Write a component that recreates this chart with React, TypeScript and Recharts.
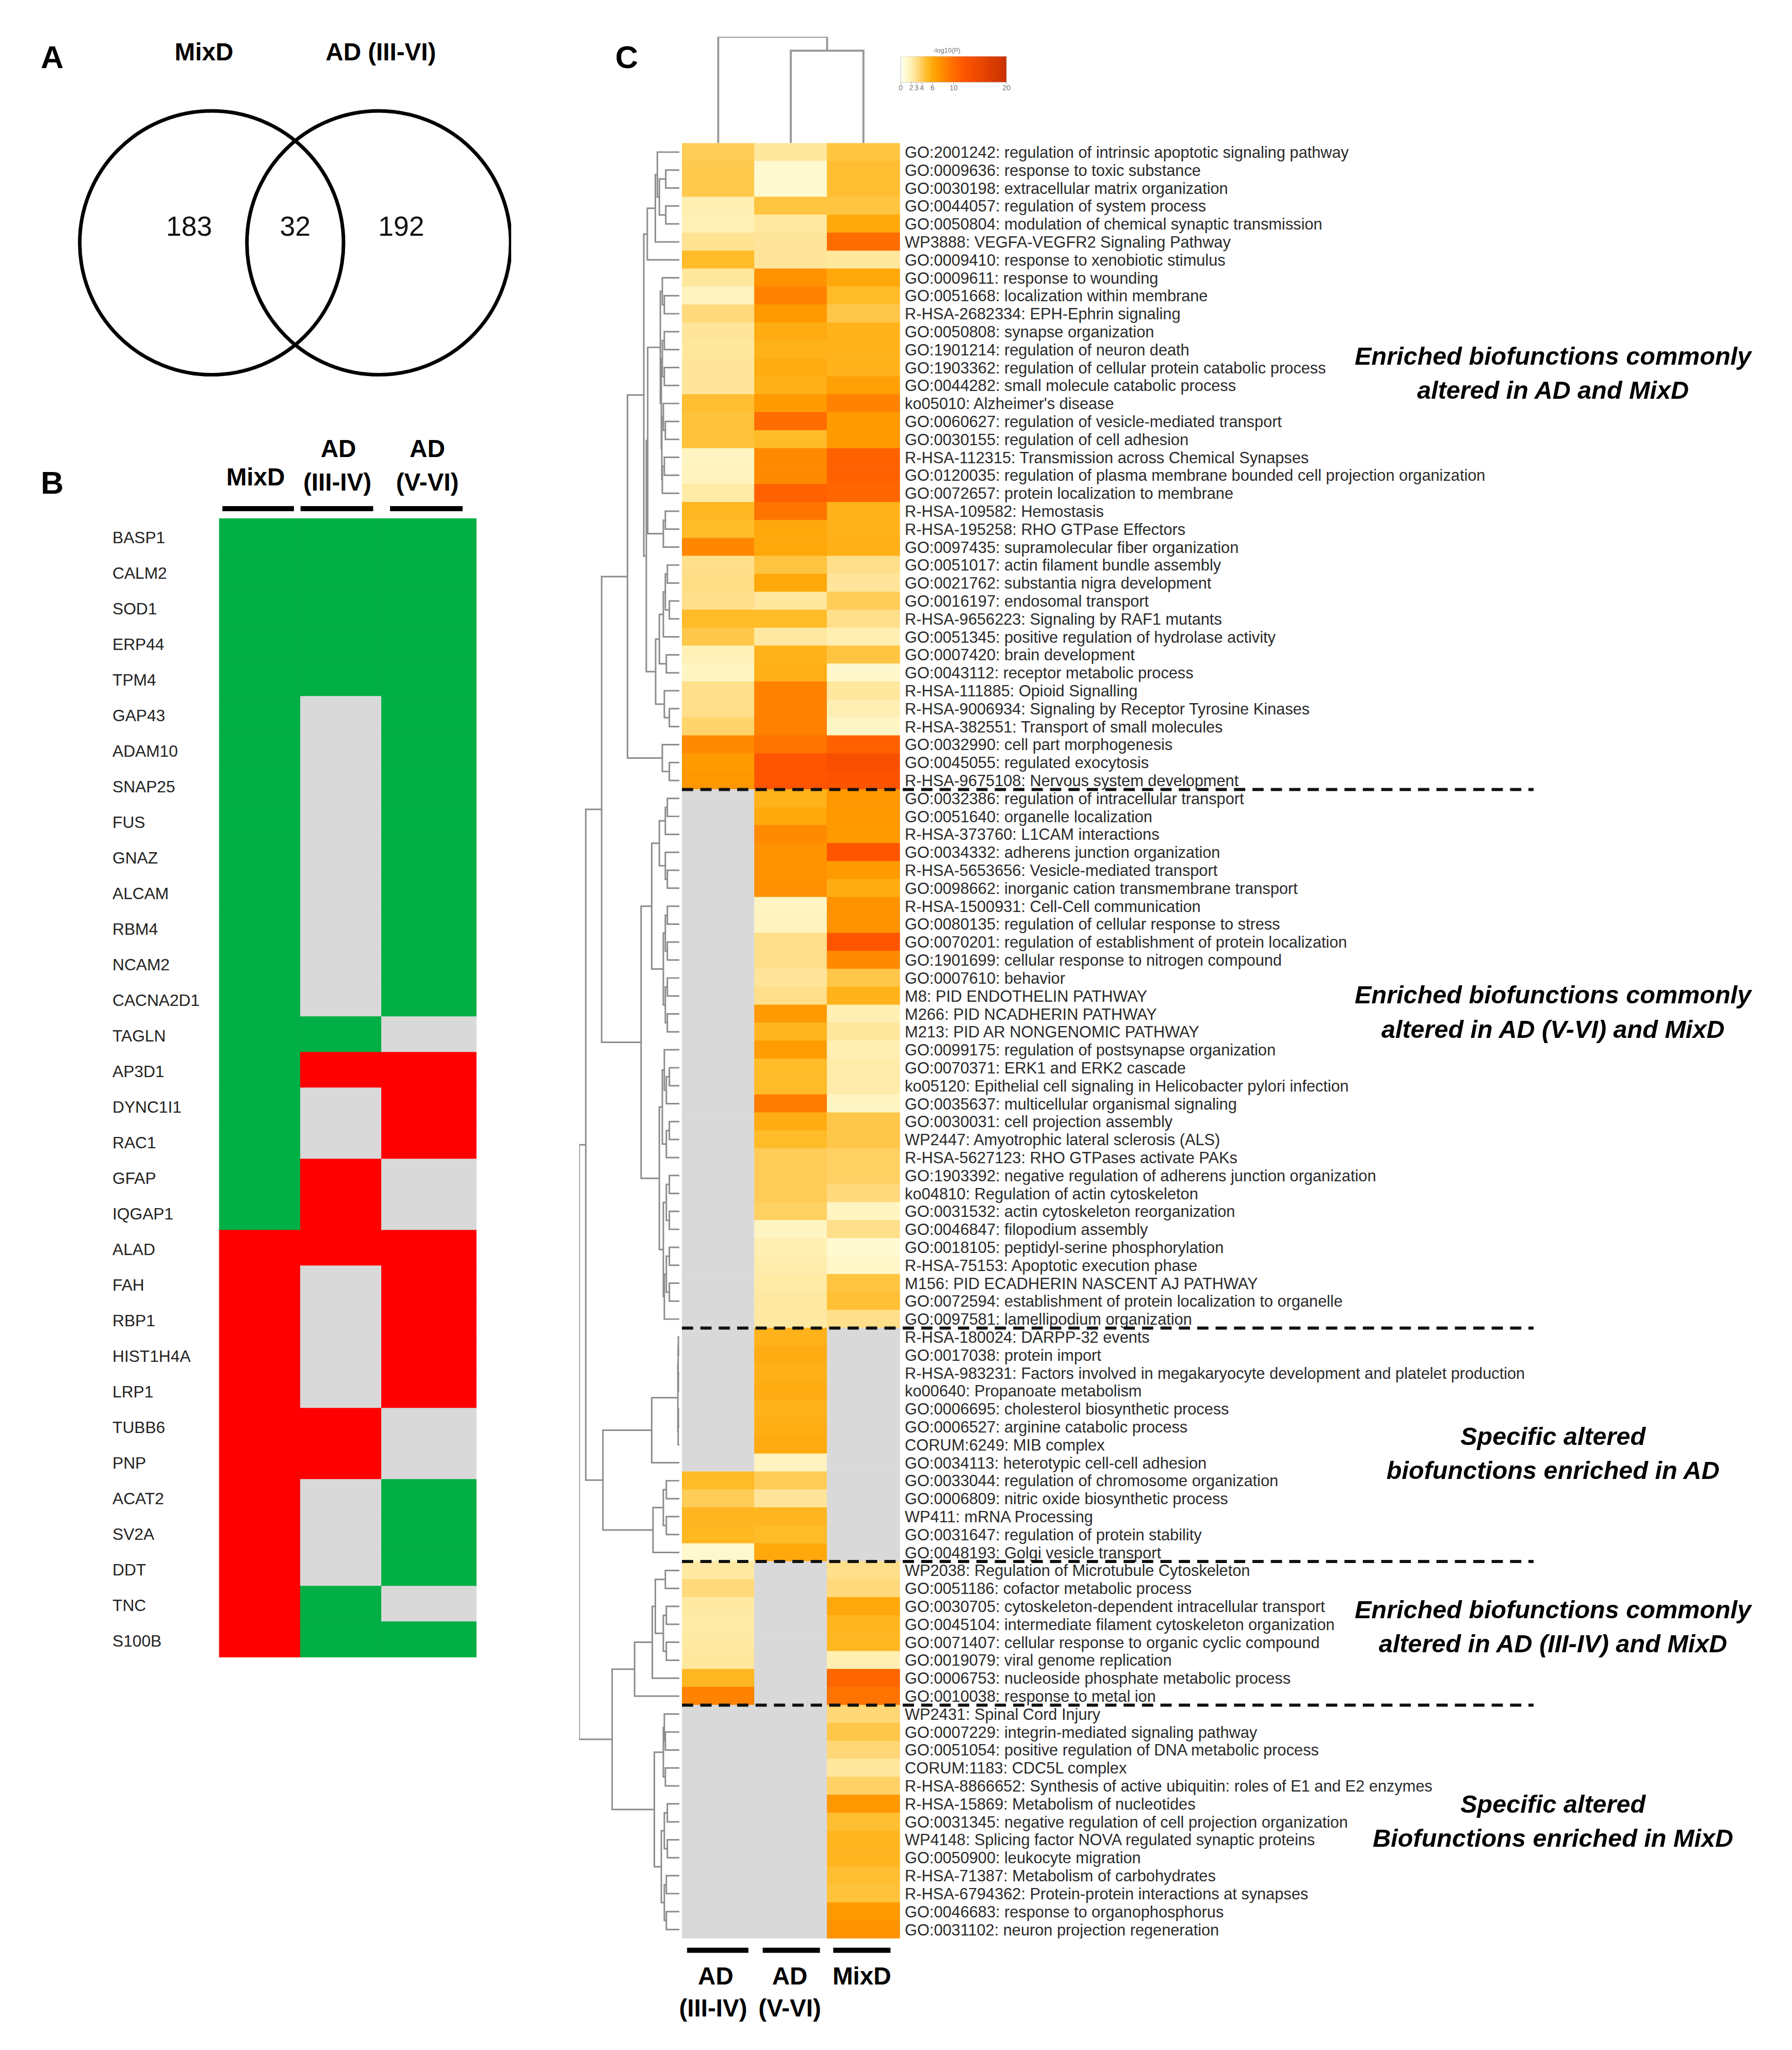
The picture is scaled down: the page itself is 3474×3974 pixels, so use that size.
import React from "react";
import { BarChart, Bar, Cell, XAxis, YAxis, ScatterChart, Scatter } from "recharts";

const FONT = "'Liberation Sans', Arial, Helvetica, sans-serif";
const ZERO = { top: 0, right: 0, bottom: 0, left: 0 };

// ---------- Panel A: Venn ----------
const vennSets = ["MixD", "AD (III-VI)"];
const vennCounts = [183, 32, 192]; // MixD only, shared, AD only

// ---------- Panel B: shared proteins ----------
const genes = [
  "BASP1", "CALM2", "SOD1", "ERP44", "TPM4", "GAP43", "ADAM10", "SNAP25",
  "FUS", "GNAZ", "ALCAM", "RBM4", "NCAM2", "CACNA2D1", "TAGLN", "AP3D1",
  "DYNC1I1", "RAC1", "GFAP", "IQGAP1", "ALAD", "FAH", "RBP1", "HIST1H4A",
  "LRP1", "TUBB6", "PNP", "ACAT2", "SV2A", "DDT", "TNC", "S100B",
];
// 1 = green, -1 = red, 0 = not altered (grey)
const geneMixD = [
  1, 1, 1, 1, 1, 1, 1, 1, 1, 1, 1, 1, 1, 1, 1, 1, 1, 1, 1, 1,
  -1, -1, -1, -1, -1, -1, -1, -1, -1, -1, -1, -1,
];
const geneAdEarly = [
  1, 1, 1, 1, 1, 0, 0, 0, 0, 0, 0, 0, 0, 0, 1, -1, 0, 0, -1, -1,
  -1, 0, 0, 0, 0, -1, -1, 0, 0, 0, 1, 1,
];
const geneAdLate = [
  1, 1, 1, 1, 1, 1, 1, 1, 1, 1, 1, 1, 1, 1, 0, -1, -1, -1, 0, 0,
  -1, -1, -1, -1, -1, 0, 0, 1, 1, 1, 0, 1,
];

// ---------- Panel C: enriched terms ----------
const terms = [
  "GO:2001242: regulation of intrinsic apoptotic signaling pathway",
  "GO:0009636: response to toxic substance",
  "GO:0030198: extracellular matrix organization",
  "GO:0044057: regulation of system process",
  "GO:0050804: modulation of chemical synaptic transmission",
  "WP3888: VEGFA-VEGFR2 Signaling Pathway",
  "GO:0009410: response to xenobiotic stimulus",
  "GO:0009611: response to wounding",
  "GO:0051668: localization within membrane",
  "R-HSA-2682334: EPH-Ephrin signaling",
  "GO:0050808: synapse organization",
  "GO:1901214: regulation of neuron death",
  "GO:1903362: regulation of cellular protein catabolic process",
  "GO:0044282: small molecule catabolic process",
  "ko05010: Alzheimer's disease",
  "GO:0060627: regulation of vesicle-mediated transport",
  "GO:0030155: regulation of cell adhesion",
  "R-HSA-112315: Transmission across Chemical Synapses",
  "GO:0120035: regulation of plasma membrane bounded cell projection organization",
  "GO:0072657: protein localization to membrane",
  "R-HSA-109582: Hemostasis",
  "R-HSA-195258: RHO GTPase Effectors",
  "GO:0097435: supramolecular fiber organization",
  "GO:0051017: actin filament bundle assembly",
  "GO:0021762: substantia nigra development",
  "GO:0016197: endosomal transport",
  "R-HSA-9656223: Signaling by RAF1 mutants",
  "GO:0051345: positive regulation of hydrolase activity",
  "GO:0007420: brain development",
  "GO:0043112: receptor metabolic process",
  "R-HSA-111885: Opioid Signalling",
  "R-HSA-9006934: Signaling by Receptor Tyrosine Kinases",
  "R-HSA-382551: Transport of small molecules",
  "GO:0032990: cell part morphogenesis",
  "GO:0045055: regulated exocytosis",
  "R-HSA-9675108: Nervous system development",
  "GO:0032386: regulation of intracellular transport",
  "GO:0051640: organelle localization",
  "R-HSA-373760: L1CAM interactions",
  "GO:0034332: adherens junction organization",
  "R-HSA-5653656: Vesicle-mediated transport",
  "GO:0098662: inorganic cation transmembrane transport",
  "R-HSA-1500931: Cell-Cell communication",
  "GO:0080135: regulation of cellular response to stress",
  "GO:0070201: regulation of establishment of protein localization",
  "GO:1901699: cellular response to nitrogen compound",
  "GO:0007610: behavior",
  "M8: PID ENDOTHELIN PATHWAY",
  "M266: PID NCADHERIN PATHWAY",
  "M213: PID AR NONGENOMIC PATHWAY",
  "GO:0099175: regulation of postsynapse organization",
  "GO:0070371: ERK1 and ERK2 cascade",
  "ko05120: Epithelial cell signaling in Helicobacter pylori infection",
  "GO:0035637: multicellular organismal signaling",
  "GO:0030031: cell projection assembly",
  "WP2447: Amyotrophic lateral sclerosis (ALS)",
  "R-HSA-5627123: RHO GTPases activate PAKs",
  "GO:1903392: negative regulation of adherens junction organization",
  "ko04810: Regulation of actin cytoskeleton",
  "GO:0031532: actin cytoskeleton reorganization",
  "GO:0046847: filopodium assembly",
  "GO:0018105: peptidyl-serine phosphorylation",
  "R-HSA-75153: Apoptotic execution phase",
  "M156: PID ECADHERIN NASCENT AJ PATHWAY",
  "GO:0072594: establishment of protein localization to organelle",
  "GO:0097581: lamellipodium organization",
  "R-HSA-180024: DARPP-32 events",
  "GO:0017038: protein import",
  "R-HSA-983231: Factors involved in megakaryocyte development and platelet production",
  "ko00640: Propanoate metabolism",
  "GO:0006695: cholesterol biosynthetic process",
  "GO:0006527: arginine catabolic process",
  "CORUM:6249: MIB complex",
  "GO:0034113: heterotypic cell-cell adhesion",
  "GO:0033044: regulation of chromosome organization",
  "GO:0006809: nitric oxide biosynthetic process",
  "WP411: mRNA Processing",
  "GO:0031647: regulation of protein stability",
  "GO:0048193: Golgi vesicle transport",
  "WP2038: Regulation of Microtubule Cytoskeleton",
  "GO:0051186: cofactor metabolic process",
  "GO:0030705: cytoskeleton-dependent intracellular transport",
  "GO:0045104: intermediate filament cytoskeleton organization",
  "GO:0071407: cellular response to organic cyclic compound",
  "GO:0019079: viral genome replication",
  "GO:0006753: nucleoside phosphate metabolic process",
  "GO:0010038: response to metal ion",
  "WP2431: Spinal Cord Injury",
  "GO:0007229: integrin-mediated signaling pathway",
  "GO:0051054: positive regulation of DNA metabolic process",
  "CORUM:1183: CDC5L complex",
  "R-HSA-8866652: Synthesis of active ubiquitin: roles of E1 and E2 enzymes",
  "R-HSA-15869: Metabolism of nucleotides",
  "GO:0031345: negative regulation of cell projection organization",
  "WP4148: Splicing factor NOVA regulated synaptic proteins",
  "GO:0050900: leukocyte migration",
  "R-HSA-71387: Metabolism of carbohydrates",
  "R-HSA-6794362: Protein-protein interactions at synapses",
  "GO:0046683: response to organophosphorus",
  "GO:0031102: neuron projection regeneration",
];

// -log10(P) per term, null = not enriched (grey)
const pAdEarly: (number | null)[] = [
  4.0, 4.2, 4.2, 2.0, 1.9, 2.8, 5.0, 2.5, 1.6, 3.3,
  2.6, 2.5, 2.6, 2.6, 4.8, 4.6, 4.6, 1.5, 1.6, 2.3,
  5.2, 5.0, 8.2, 3.0, 3.1, 3.0, 5.0, 4.3, 1.8, 1.5,
  3.0, 3.0, 3.6, 8.0, 7.0, 7.2, null, null, null, null,
  null, null, null, null, null, null, null, null, null, null,
  null, null, null, null, null, null, null, null, null, null,
  null, null, null, null, null, null, null, null, null, null,
  null, null, null, null, 5.0, 4.0, 5.3, 5.2, 1.2, 2.4,
  3.3, 2.4, 2.3, 2.4, 2.5, 5.2, 8.5, null, null, null,
  null, null, null, null, null, null, null, null, null, null,
];
const pAdLate: (number | null)[] = [
  2.5, 1.0, 1.1, 4.5, 2.4, 2.6, 2.6, 7.5, 8.5, 7.0,
  5.8, 5.5, 5.8, 5.6, 7.0, 10.0, 5.0, 8.0, 8.0, 11.0,
  9.5, 6.0, 6.0, 4.5, 6.0, 2.5, 5.0, 2.4, 5.5, 5.6,
  8.5, 8.5, 8.6, 9.5, 12.0, 12.0, 5.5, 6.0, 8.0, 7.5,
  7.5, 7.6, 1.5, 1.6, 3.0, 3.0, 2.6, 3.0, 7.0, 5.3,
  6.8, 5.0, 5.0, 9.0, 5.8, 5.0, 4.0, 4.0, 4.0, 3.8,
  1.5, 2.0, 2.1, 2.3, 2.4, 2.4, 5.5, 5.8, 5.6, 5.8,
  5.5, 5.7, 5.9, 1.6, 4.0, 2.6, 5.3, 5.0, 6.0, null,
  null, null, null, null, null, null, null, null, null, null,
  null, null, null, null, null, null, null, null, null, null,
];
const pMixD: (number | null)[] = [
  4.5, 4.8, 4.8, 4.5, 6.0, 10.0, 2.5, 6.0, 5.0, 4.3,
  5.5, 5.5, 5.5, 6.5, 8.5, 7.0, 7.0, 11.0, 11.0, 10.5,
  5.5, 5.5, 5.6, 3.0, 2.6, 4.0, 3.0, 2.0, 4.5, 1.2,
  2.5, 2.0, 1.4, 11.0, 13.0, 12.5, 7.2, 7.2, 7.0, 12.0,
  7.0, 5.8, 7.5, 7.5, 12.0, 8.0, 4.3, 5.5, 2.0, 2.5,
  2.0, 2.2, 2.2, 1.5, 4.3, 4.3, 3.8, 3.8, 3.3, 1.5,
  3.0, 1.0, 1.3, 4.5, 4.7, 3.0, null, null, null, null,
  null, null, null, null, null, null, null, null, null, 3.0,
  3.3, 6.0, 5.3, 5.2, 2.0, 10.5, 9.5, 3.4, 4.3, 3.4,
  2.5, 3.7, 7.2, 4.8, 5.3, 5.3, 4.8, 4.6, 7.0, 7.5,
];
const groupBreaks = [36, 66, 79, 87];
const legendTicks = [0, 2, 3, 4, 6, 10, 20];

const groupNotes = [
  ["Enriched biofunctions commonly", "altered in AD and MixD"],
  ["Enriched biofunctions commonly", "altered in AD (V-VI) and MixD"],
  ["Specific altered", "biofunctions enriched in AD"],
  ["Enriched biofunctions commonly", "altered in AD (III-IV) and MixD"],
  ["Specific altered", "Biofunctions enriched in MixD"],
];

// row clustering: [height, left, right], leaves are row numbers
type Node = number | [number, Node, Node];
const rowTree: Node = [1.0,
  [0.934,
    [0.776,
      [0.518,
        [0.355,
          [0.32, [0.24, [0.22, 1, [0.2, [0.136, 2, 3], [0.136, 4, 5]]], 6], 7],
          [0.33,
            [0.316,
              [0.19, [0.17, 8, [0.15, 9, 10]],
                [0.18, [0.17, [0.15, 11, 12], [0.15, 13, 14]],
                  [0.175, [0.16, 15, [0.14, 16, 17]], [0.17, [0.15, 18, 19], 20]]]],
              [0.16, [0.14, 21, 22], 23]],
            [0.237, [0.2, [0.16, [0.14, [0.12, 24, 25], [0.1, 26, 27]], 28], [0.13, 29, 30]],
              [0.15, 31, [0.1, 32, 33]]]]],
        [0.17, 34, [0.1, 35, 36]]],
      [0.382,
        [0.276,
          [0.2, [0.14, [0.12, 37, 38], 39], [0.14, 40, [0.12, 41, 42]]],
          [0.16, [0.14, [0.12, 43, 44], [0.12, 45, 46]], [0.14, [0.12, 47, 48], [0.12, 49, 50]]]],
        [0.2,
          [0.17, [0.15, 51, [0.13, [0.1, 52, 53], 54]], [0.13, [0.1, 55, 56], 57]],
          [0.16, [0.13, [0.1, 58, 59], [0.1, 60, 61]], [0.15, [0.13, [0.1, 62, 63], [0.1, 64, 65]], 66]]]]],
    [0.763,
      [0.276, [0.015, [0.012, [0.01, 67, 68], [0.01, 69, 70]], [0.012, [0.01, 71, 72], 73]], 74],
      [0.263, [0.16, [0.13, 75, 76], [0.13, 77, 78]], 79]]],
  [0.671,
    [0.447, [0.27, [0.24, [0.14, 80, 81], [0.16, [0.13, 82, 83], [0.13, 84, 85]]], 86], 87],
    [0.25,
      [0.16, [0.15, 88, [0.14, 89, 90]], [0.14, 91, 92]],
      [0.18, [0.15, [0.12, 93, 94], [0.12, 95, 96]], [0.15, [0.13, 97, 98], [0.13, 99, 100]]]]]];

// column clustering, leaves are column indexes
const colTree: Node = [1.0, 0, [0.87, 1, 2]];

// ---------- helpers ----------
const heatStops: [number, string][] = [
  [0, "#FFFFF2"], [1, "#FFFAD2"], [2, "#FFEFB2"], [3, "#FFDF8A"], [4, "#FFCC58"],
  [5, "#FFBB28"], [6, "#FFA80C"], [7, "#FF9A00"], [8, "#FF8A00"], [10, "#FF6C00"],
  [12, "#FF5500"], [20, "#C83000"],
];
function hexToRgb(h: string) {
  return [1, 3, 5].map((i) => parseInt(h.slice(i, i + 2), 16));
}
function heatColor(v: number | null) {
  if (v === null) return "#D9D9D9";
  for (let i = 1; i < heatStops.length; i++) {
    const [v1, c1] = heatStops[i];
    const [v0, c0] = heatStops[i - 1];
    if (v <= v1) {
      const t = (v - v0) / (v1 - v0);
      const a = hexToRgb(c0), b = hexToRgb(c1);
      const c = a.map((x, k) => Math.round(x + (b[k] - x) * t));
      return `rgb(${c[0]},${c[1]},${c[2]})`;
    }
  }
  return heatStops[heatStops.length - 1][1];
}
const statusColor = (s: number) => (s > 0 ? "#00AF45" : s < 0 ? "#FF0000" : "#D9D9D9");

type Pt = { h: number; p: number };
function walk(node: Node, out: Pt[][], leafPos: (n: number) => number): Pt {
  if (typeof node === "number") return { h: 0, p: leafPos(node) };
  const [h, l, r] = node;
  const a = walk(l, out, leafPos);
  const b = walk(r, out, leafPos);
  out.push([{ h: a.h, p: a.p }, { h, p: a.p }, { h, p: b.p }, { h: b.h, p: b.p }]);
  return { h, p: (a.p + b.p) / 2 };
}
const noShape = () => <g />;

function Txt(props: any) {
  const { x, y, size, bold, italic, children, color = "#000" } = props;
  return (
    <div
      style={{
        position: "absolute", left: x, top: y, transform: "translate(-50%, -50%)",
        fontSize: size, fontWeight: bold ? 700 : 400, fontStyle: italic ? "italic" : "normal",
        whiteSpace: "nowrap", lineHeight: 1, color, fontFamily: FONT,
      }}
    >
      {children}
    </div>
  );
}
function Box(props: any) {
  const { x, y, w, h, children } = props;
  return <div style={{ position: "absolute", left: x, top: y, width: w, height: h }}>{children}</div>;
}
function Rule({ x, y, w }: any) {
  return <div style={{ position: "absolute", left: x, top: y, width: w, height: 10, background: "#000" }} />;
}

// ---------- panels ----------
function Venn() {
  const R = 2.58, cx = 4.775, gap = 3.27;
  const circles = vennSets.map((name, i) => ({ name, x: cx + (i === 0 ? -gap / 2 : gap / 2), y: 4.5 }));
  const counts = vennCounts.map((n, i) => ({ n, x: cx + (i - 1) * (gap / 2 + 0.44), y: 4.83 }));
  return (
    <ScatterChart width={900} height={900} margin={ZERO}>
      <XAxis type="number" dataKey="x" domain={[0, 9]} hide />
      <YAxis type="number" dataKey="y" domain={[0, 9]} hide />
      <Scatter data={circles} isAnimationActive={false}
        shape={(p: any) => <circle cx={p.cx} cy={p.cy} r={R * 100} fill="none" stroke="#000" strokeWidth={7} />} />
      <Scatter data={counts} isAnimationActive={false}
        shape={(p: any) => (
          <text x={p.cx} y={p.cy} dy="0.36em" textAnchor="middle" fontSize={54} fontFamily={FONT} fill="#111">
            {p.payload.n}
          </text>
        )} />
    </ScatterChart>
  );
}

function GeneTick(props: any) {
  const { x, y, payload } = props;
  return (
    <text x={x - 209} y={y} dy="0.42em" fontSize={32} fontFamily={FONT} fill="#222">
      {payload.value}
    </text>
  );
}

function GeneHeatmap() {
  const widths = [1, 1, 1.17];
  const rows = genes.map((g) => ({ gene: g, m: widths[0], e: widths[1], l: widths[2] }));
  const cols: [string, number[]][] = [["m", geneMixD], ["e", geneAdEarly], ["l", geneAdLate]];
  return (
    <BarChart layout="vertical" width={723} height={2228} data={rows} margin={ZERO} barCategoryGap={0}>
      <XAxis type="number" domain={[0, 3.17]} hide />
      <YAxis type="category" dataKey="gene" width={220} tick={<GeneTick />} tickLine={false}
        axisLine={false} tickSize={0} tickMargin={0} interval={0} />
      {cols.map(([key, vals]) => (
        <Bar key={key} dataKey={key} stackId="s" isAnimationActive={false}>
          {vals.map((s, i) => <Cell key={i} fill={statusColor(s)} stroke={statusColor(s)} strokeWidth={1} />)}
        </Bar>
      ))}
    </BarChart>
  );
}

function TermTick(props: any) {
  const { x, y, payload } = props;
  return (
    <text x={x} y={y} dy="0.36em" fontSize={31} fontFamily={FONT} fill="#2a2a2a">
      {payload.value}
    </text>
  );
}

const HM_TOP = 280;
const HM_H = 3512;

function TermHeatmap() {
  const rows = terms.map((t) => ({ term: t, a: 1, b: 1, c: 1 }));
  const cols: [string, (number | null)[]][] = [["a", pAdEarly], ["b", pAdLate], ["c", pMixD]];
  return (
    <BarChart layout="vertical" width={1726} height={HM_H} data={rows} margin={ZERO} barCategoryGap={0}>
      <XAxis type="number" domain={[0, 3]} hide />
      <YAxis type="category" dataKey="term" orientation="right" width={1300} tick={<TermTick />}
        tickLine={false} axisLine={false} tickSize={0} tickMargin={10} interval={0} />
      {cols.map(([key, vals]) => (
        <Bar key={key} dataKey={key} stackId="s" isAnimationActive={false}>
          {vals.map((v, i) => <Cell key={i} fill={heatColor(v)} stroke={heatColor(v)} strokeWidth={1} />)}
        </Bar>
      ))}
    </BarChart>
  );
}

function RowDendrogram() {
  const links: Pt[][] = [];
  walk(rowTree, links, (n) => n - 0.5);
  return (
    <ScatterChart width={196} height={HM_H} margin={ZERO}>
      <XAxis type="number" dataKey="x" domain={[0, 1]} reversed hide />
      <YAxis type="number" dataKey="y" domain={[0, 100]} reversed hide />
      {links.map((pts, i) => (
        <Scatter key={i} data={pts.map((q) => ({ x: q.h, y: q.p }))} line={{ stroke: "#8c8c8c", strokeWidth: 3 }}
          shape={noShape} isAnimationActive={false} />
      ))}
    </ScatterChart>
  );
}

function ColDendrogram() {
  const links: Pt[][] = [];
  walk(colTree, links, (n) => n + 0.5);
  return (
    <ScatterChart width={426} height={HM_TOP - 72} margin={ZERO}>
      <XAxis type="number" dataKey="x" domain={[0, 3]} hide />
      <YAxis type="number" dataKey="y" domain={[0, 1]} hide />
      {links.map((pts, i) => (
        <Scatter key={i} data={pts.map((q) => ({ x: q.p, y: q.h }))} line={{ stroke: "#999", strokeWidth: 4 }}
          shape={noShape} isAnimationActive={false} />
      ))}
    </ScatterChart>
  );
}

function GroupLines() {
  return (
    <ScatterChart width={1666} height={HM_H} margin={ZERO}>
      <XAxis type="number" dataKey="x" domain={[0, 1]} hide />
      <YAxis type="number" dataKey="y" domain={[0, 100]} reversed hide />
      {groupBreaks.map((b) => (
        <Scatter key={b} data={[{ x: 0, y: b }, { x: 1, y: b }]}
          line={{ stroke: "#111", strokeWidth: 6, strokeDasharray: "22 14" }} shape={noShape} isAnimationActive={false} />
      ))}
    </ScatterChart>
  );
}

function ScaleLegend() {
  const max = legendTicks[legendTicks.length - 1];
  return (
    <BarChart layout="vertical" width={233} height={80} data={[{ k: "scale", v: max }]}
      margin={{ top: 0, right: 13, bottom: 0, left: 13 }} barCategoryGap={0}>
      <defs>
        <linearGradient id="heatGrad" x1="0" y1="0" x2="1" y2="0">
          {heatStops.map(([v, c]) => <stop key={v} offset={`${(v / max) * 100}%`} stopColor={c} />)}
        </linearGradient>
      </defs>
      <XAxis type="number" domain={[0, max]} ticks={legendTicks} interval={0} height={29} tickSize={4}
        axisLine={false} tickLine={{ stroke: "#999" }} tick={{ fontSize: 14, fill: "#777", fontFamily: FONT }} />
      <YAxis type="category" dataKey="k" hide />
      <Bar dataKey="v" fill="url(#heatGrad)" stroke="#c8c8c8" isAnimationActive={false} />
    </BarChart>
  );
}

export default function App() {
  const noteY = [730, 1980, 2843, 3182, 3563];
  return (
    <div style={{ position: "absolute", left: 0, top: 0, width: 3474, height: 3974, background: "#fff", fontFamily: FONT,
      overflow: "hidden", transform: "scale(0.991)", transformOrigin: "0 0" }}>
      {/* Panel A */}
      <Txt x={102} y={112} size={62} bold>A</Txt>
      <Txt x={399} y={102} size={48} bold>{vennSets[0]}</Txt>
      <Txt x={745} y={102} size={48} bold>{vennSets[1]}</Txt>
      <Box x={100} y={25} w={900} h={900}><Venn /></Box>

      {/* Panel B */}
      <Txt x={102} y={945} size={62} bold>B</Txt>
      <Txt x={500} y={934} size={48} bold>MixD</Txt>
      <Txt x={662} y={878} size={48} bold>AD</Txt>
      <Txt x={660} y={944} size={48} bold>(III-IV)</Txt>
      <Txt x={836} y={878} size={48} bold>AD</Txt>
      <Txt x={836} y={944} size={48} bold>(V-VI)</Txt>
      <Rule x={435} y={990} w={140} />
      <Rule x={588} y={990} w={142} />
      <Rule x={763} y={990} w={142} />
      <Box x={209} y={1014} w={723} h={2228}><GeneHeatmap /></Box>

      {/* Panel C */}
      <Txt x={1226} y={112} size={62} bold>C</Txt>
      <Box x={1334} y={72} w={426} h={HM_TOP - 72}><ColDendrogram /></Box>
      <Txt x={1852} y={98} size={13} color="#777">-log10(P)</Txt>
      <Box x={1749} y={110} w={233} h={80}><ScaleLegend /></Box>
      <Box x={1133} y={HM_TOP} w={196} h={HM_H}><RowDendrogram /></Box>
      <Box x={1334} y={HM_TOP} w={1726} h={HM_H}><TermHeatmap /></Box>
      <Box x={1334} y={HM_TOP} w={1666} h={HM_H}><GroupLines /></Box>
      <Rule x={1344} y={3810} w={120} />
      <Rule x={1492} y={3810} w={112} />
      <Rule x={1630} y={3810} w={112} />
      <Txt x={1400} y={3866} size={48} bold>AD</Txt>
      <Txt x={1545} y={3866} size={48} bold>AD</Txt>
      <Txt x={1686} y={3866} size={48} bold>MixD</Txt>
      <Txt x={1395} y={3929} size={48} bold>(III-IV)</Txt>
      <Txt x={1545} y={3929} size={48} bold>(V-VI)</Txt>

      {groupNotes.map((lines, i) => (
        <div key={i} style={{ position: "absolute", left: 3038, top: noteY[i] - 67, transform: "translateX(-50%)", textAlign: "center",
          fontSize: 49, fontWeight: 700, fontStyle: "italic", lineHeight: "67px", whiteSpace: "nowrap", fontFamily: FONT }}>
          {lines.map((l) => <div key={l}>{l}</div>)}
        </div>
      ))}
    </div>
  );
}
